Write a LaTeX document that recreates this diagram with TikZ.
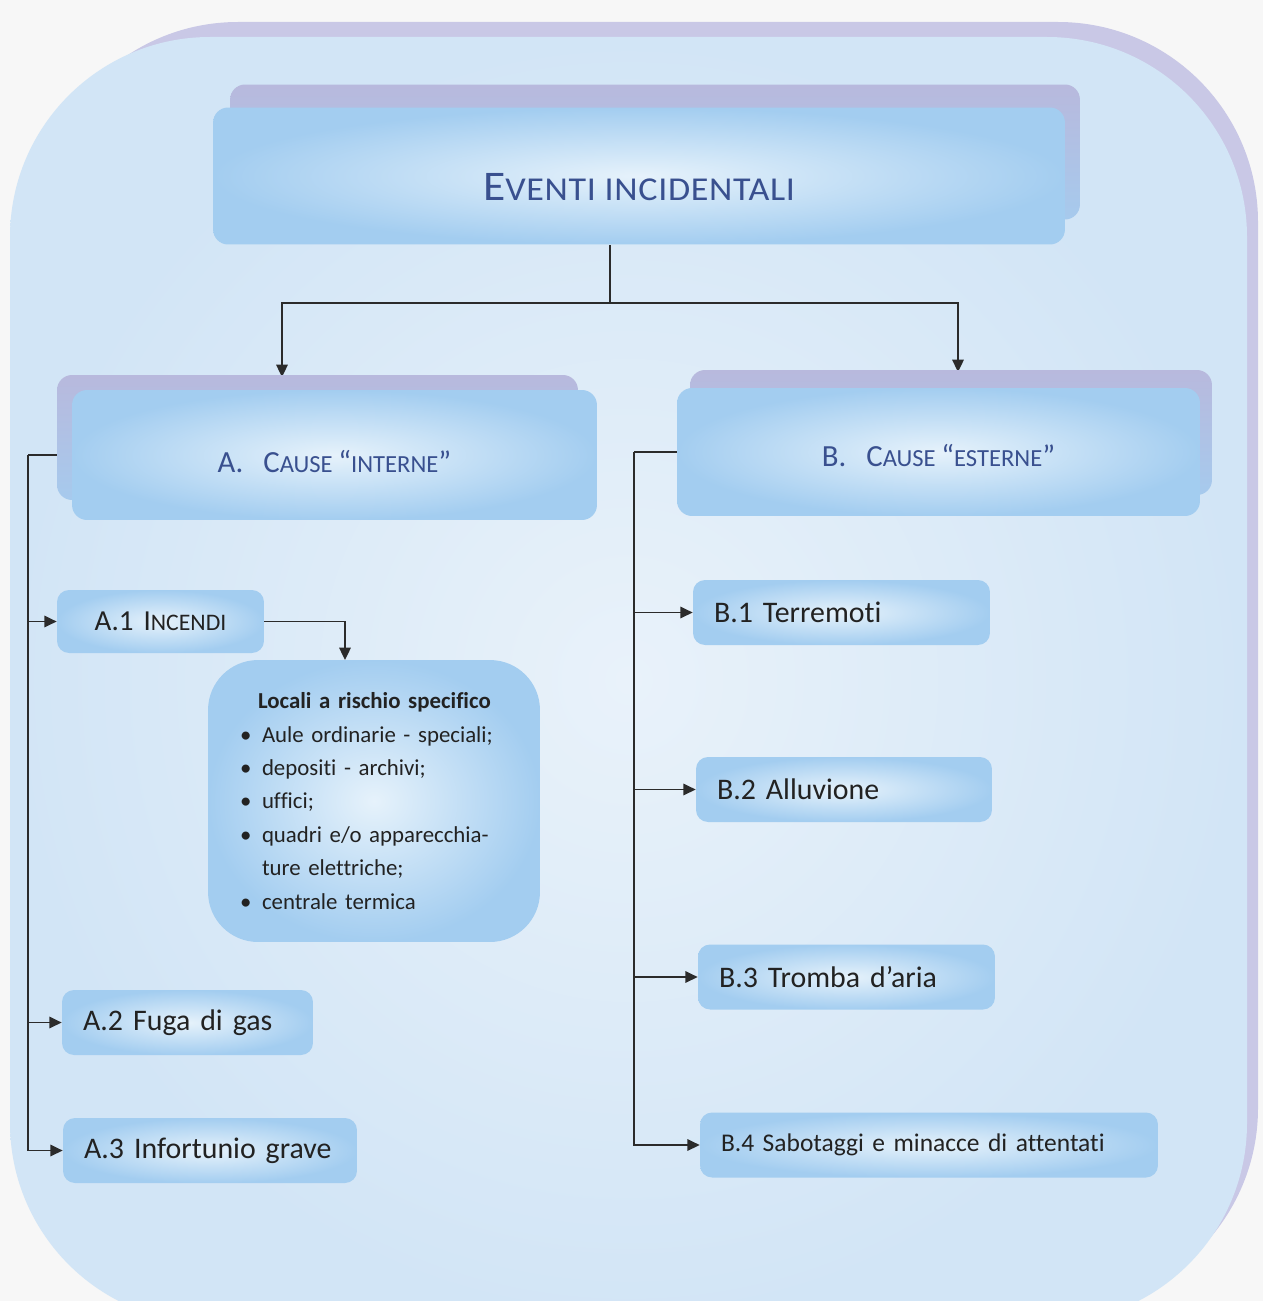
\documentclass[tikz,border=0pt]{standalone}
\usepackage{fontspec}
\setmainfont[Ligatures={NoCommon,NoDiscretionary}]{Carlito}
\newfontfamily\widefont[FakeStretch=1.08,LetterSpace=2.0,Ligatures=NoCommon]{Carlito}
\usepackage{xcolor}
\definecolor{paper}{HTML}{F7F7F7}
\definecolor{panelBack}{HTML}{C9C8E6}
\definecolor{panelIn}{HTML}{E9F2FA}
\definecolor{panelOut}{HTML}{D2E5F6}
\definecolor{boxEdge}{HTML}{A3CDF0}
\definecolor{boxGlow}{HTML}{E6F2FB}
\definecolor{boxBack}{HTML}{B8B9DD}
\definecolor{headText}{HTML}{39508F}
\definecolor{itemText}{HTML}{222222}
\definecolor{wire}{HTML}{2B2B2B}
\usetikzlibrary{%
    arrows.meta,
    backgrounds
}
\pgfdeclarelayer{wires}
\pgfsetlayers{background,wires,main}
\newcommand{\capbig}{\fontsize{17.5}{20}\selectfont}
\newcommand{\capsmall}{\fontsize{14}{20}\selectfont}

\begin{document}
\begin{tikzpicture}[x=0.02cm, y=-0.02cm,
                >={Triangle[length=7pt,width=6.5pt]},
                head/.style={rectangle, rounded corners=0.3cm, inner color=boxGlow, outer color=boxEdge, text=headText, align=center, text depth=0pt},
                headback/.style={rectangle, rounded corners=0.3cm, top color=boxBack, bottom color=boxEdge!85!boxBack},
                item/.style={rectangle, rounded corners=0.24cm, inner color=boxGlow, outer color=boxEdge, text=itemText, font=\fontsize{17}{20}\selectfont, align=left, inner xsep=0.42cm, minimum height=1.3cm},
                flow/.style={draw=wire, line width=1.1pt, ->},
                link/.style={draw=wire, line width=1.1pt}
            ]

            \useasboundingbox (0,0) rectangle (1263,1301);

            \begin{scope}[on background layer]
                \clip (0,0) rectangle (1263,1301);
                \fill[paper] (0,0) rectangle (1263,1301);
                \fill[panelBack, rounded corners=4cm] (38,22) rectangle (1258,1308);
                \shade[inner color=panelIn, outer color=panelOut, rounded corners=4cm] (10,37) rectangle (1247,1323);
            \end{scope}

            % top level
            \node (titleback) at (655,152) [headback, minimum width=17cm, minimum height=2.7cm] {};
            \node (title) at (639,176) [head, minimum width=17.04cm, minimum height=2.74cm, text height=28pt]
                {\widefont\fontsize{24}{28}\selectfont E\fontsize{19}{28}\selectfont VENTI INCIDENTALI};

            % the two groups
            \node (causeAback) at (317.5,437.5) [headback, minimum width=10.42cm, minimum height=2.5cm] {};
            \node (causeA) at (334.5,455) [head, minimum width=10.5cm, minimum height=2.6cm, text height=20pt]
                {\capbig A.\hspace{0.4cm}C\capsmall AUSE \capbig “\capsmall INTERNE\capbig ”};
            \node (causeBback) at (951,432.5) [headback, minimum width=10.44cm, minimum height=2.5cm] {};
            \node (causeB) at (938.5,452) [head, minimum width=10.46cm, minimum height=2.56cm, text height=17pt]
                {\capbig B.\hspace{0.4cm}C\capsmall AUSE \capbig “\capsmall ESTERNE\capbig ”};

            % internal causes
            \node (a1) at (160.5,621.5) [item, text width=3.3cm, align=center, minimum height=1.26cm]
                {\fontsize{16.5}{20}\selectfont A.1 I\fontsize{13.5}{20}\selectfont NCENDI};
            \node (locali) at (374,801) [item, rounded corners=1cm, inner xsep=0.64cm, text width=5.36cm, minimum height=5.64cm, font=\fontsize{13}{19}\selectfont]
                {\hspace*{0.36cm}\textbf{Locali a rischio specifico}\\
                 \makebox[0.44cm][l]{\textbullet}Aule ordinarie - speciali;\\
                 \makebox[0.44cm][l]{\textbullet}depositi - archivi;\\
                 \makebox[0.44cm][l]{\textbullet}uffici;\\
                 \makebox[0.44cm][l]{\textbullet}quadri e/o apparecchia-\\
                 \hspace*{0.44cm}ture elettriche;\\
                 \makebox[0.44cm][l]{\textbullet}centrale termica};
            \node (a2) at (187.5,1022.5) [item, text width=4.18cm] {A.2 Fuga di gas};
            \node (a3) at (210,1150.5) [item, text width=5.04cm] {A.3 Infortunio grave};

            % external causes
            \node (b1) at (841.5,612.5) [item, text width=5.1cm] {B.1 Terremoti};
            \node (b2) at (844,789.5) [item, text width=5.08cm] {B.2 Alluvione};
            \node (b3) at (846.5,977) [item, text width=5.1cm] {B.3 Tromba d’aria};
            \node (b4) at (929,1145) [item, text width=8.32cm, font=\fontsize{14.5}{18}\selectfont] {B.4 Sabotaggi e minacce di attentati};

            \coordinate (split) at (610,303);
            \coordinate (toA) at (282,377);
            \coordinate (toB) at (958,372);
            \coordinate (aspine) at (28,455);
            \coordinate (bspine) at (634,452);
            \coordinate (toLocali) at (345,660);

            \begin{pgfonlayer}{wires}
                \draw[link] (title.south -| split) -- (split);
                \draw[flow] (split) -| (toA);
                \draw[flow] (split) -| (toB);
                \draw[link] (causeA.west) -- (aspine);
                \draw[flow] (aspine) |- (a1.west);
                \draw[flow] (aspine) |- (a2.west);
                \draw[flow] (aspine) |- (a3.west);
                \draw[flow] (a1.east) -| (toLocali);
                \draw[link] (causeB.west) -- (bspine);
                \draw[flow] (bspine) |- (b1.west);
                \draw[flow] (bspine) |- (b2.west);
                \draw[flow] (bspine) |- (b3.west);
                \draw[flow] (bspine) |- (b4.west);
            \end{pgfonlayer}
        \end{tikzpicture}
\end{document}
